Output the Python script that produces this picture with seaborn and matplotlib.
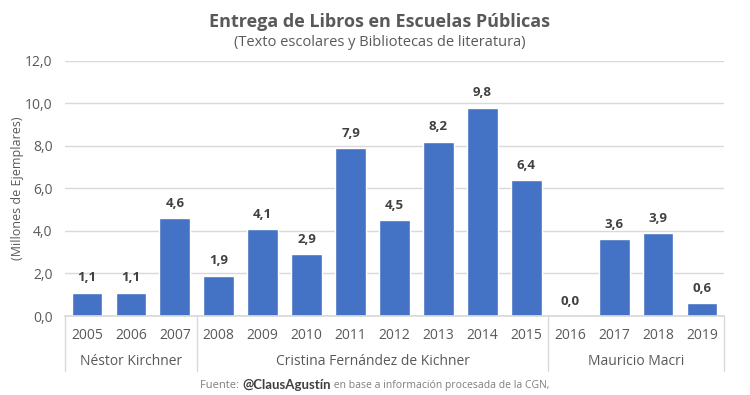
import matplotlib
matplotlib.use("Agg")
import matplotlib.pyplot as plt
import matplotlib.transforms as mtransforms
from matplotlib.ticker import FuncFormatter
import pandas as pd
import seaborn as sns

# === Data ===
years = ["2005", "2006", "2007", "2008", "2009", "2010", "2011", "2012",
         "2013", "2014", "2015", "2016", "2017", "2018", "2019"]
books = [1.1, 1.1, 4.6, 1.9, 4.1, 2.9, 7.9, 4.5, 8.2, 9.8, 6.4, 0.0, 3.6, 3.9, 0.6]
presidents = ["Néstor Kirchner", "Cristina Fernández de Kichner", "Mauricio Macri"]
president_years = [3, 8, 4]  # number of years for each term

df = pd.DataFrame({"year": years, "books": books})

BAR_COLOR = "#4472C4"
TEXT_GRAY = "#595959"
LINE_GRAY = "#D9D9D9"

sns.set_theme(style="white")
plt.rcParams["font.family"] = ["Open Sans", "DejaVu Sans"]

fig = plt.figure(figsize=(7.5, 3.95), dpi=100)
ax = fig.add_axes([0.0867, 0.2, 0.8786, 0.6456])

sns.barplot(data=df, x="year", y="books", order=years, color=BAR_COLOR,
            saturation=1, width=0.7, ax=ax)

ax.set_ylim(0, 12)
ax.set_xlim(-0.5, len(years) - 0.5)
ax.set_yticks(range(0, 13, 2))
ax.yaxis.set_major_formatter(FuncFormatter(lambda v, p: f"{v:.1f}".replace(".", ",")))
ax.grid(axis="y", color=LINE_GRAY, linewidth=1)
ax.set_axisbelow(True)
for side in ["top", "right", "left"]:
    ax.spines[side].set_visible(False)
ax.spines["bottom"].set_color(LINE_GRAY)
ax.tick_params(axis="both", length=0, colors=TEXT_GRAY, labelsize=10)
ax.tick_params(axis="x", pad=8.5)
ax.tick_params(axis="y", pad=9)
ax.set_xlabel("")
ax.set_ylabel("(Millones de Ejemplares)", color=TEXT_GRAY, fontsize=9)
ax.yaxis.set_label_coords(-0.063, 0.5)

# value labels
labels = [f"{v:.1f}".replace(".", ",") for v in books]
ax.bar_label(ax.containers[0], labels=labels, padding=6, fontsize=9.5,
             fontweight="bold", color="#404040")

# === Multi-level category axis ===
trans = mtransforms.blended_transform_factory(ax.transData, ax.transAxes)
start = -0.5
bounds = [start]
for i, n in enumerate(president_years):
    end = start + n
    bounds.append(end)
    ax.text((start + end) / 2, -0.178, presidents[i], transform=trans,
            ha="center", va="center", fontsize=10, color=TEXT_GRAY)
    start = end
for b in bounds:
    ax.plot([b, b], [0, -0.215], transform=trans, color=LINE_GRAY,
            linewidth=1, clip_on=False)

# === Titles ===
fig.text(0.506, 0.945, "Entrega de Libros en Escuelas Públicas", ha="center",
         va="center", fontsize=13, fontweight="bold", color=TEXT_GRAY)
fig.text(0.506, 0.893, "(Texto escolares y Bibliotecas de literatura)",
         ha="center", va="center", fontsize=10.5, color=TEXT_GRAY)

# === Footer ===
t1 = fig.text(0.267, 0.018, "Fuente: ", fontsize=8, color="#7F7F7F", va="baseline")
a2 = ax.annotate("@ClausAgustín", xy=(1, 0), xycoords=t1, va="bottom",
                 fontsize=9.5, fontweight="bold", color="#404040",
                 family=["Lato", "DejaVu Sans"], annotation_clip=False)
ax.annotate(" en base a información procesada de la CGN,", xy=(1, 0),
            xycoords=a2, va="bottom", fontsize=7.5, color="#7F7F7F",
            annotation_clip=False)

fig.savefig("out.png", dpi=100)
plt.close(fig)
